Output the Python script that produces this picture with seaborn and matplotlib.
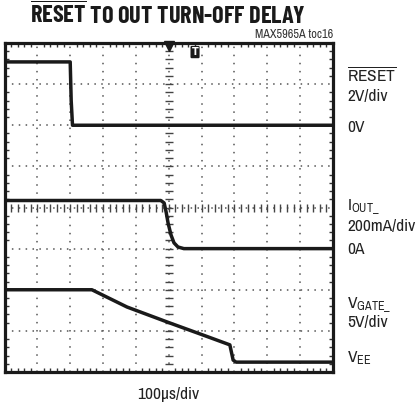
import numpy as np
import pandas as pd
import seaborn as sns
import matplotlib.pyplot as plt
from matplotlib.ticker import MultipleLocator

# trace breakpoints, in scope divisions (10 x 8 graticule)
reset_t = [0.0, 2.00, 2.03, 2.07, 10.0]
reset_v = [7.54, 7.54, 6.60, 6.00, 6.00]

iout_t = [0.0, 4.76, 4.86, 4.92, 4.98, 5.07, 5.16, 5.28, 5.46, 10.0]
iout_v = [4.17, 4.17, 4.11, 3.89, 3.62, 3.33, 3.14, 3.04, 3.00, 3.00]

gate_t = [0.0, 2.66, 3.73, 5.04, 6.04, 6.86, 6.96, 7.05, 10.0]
gate_v = [2.00, 2.00, 1.58, 1.19, 0.90, 0.66, 0.29, 0.24, 0.24]

traces = pd.concat([
    pd.DataFrame({"t": reset_t, "v": reset_v, "ch": "reset"}),
    pd.DataFrame({"t": iout_t, "v": iout_v, "ch": "iout"}),
    pd.DataFrame({"t": gate_t, "v": gate_v, "ch": "gate"}),
])

sns.set_theme(style="white")
plt.rcParams["font.family"] = ["Archivo Narrow", "DejaVu Sans"]
plt.rcParams["mathtext.fontset"] = "custom"
plt.rcParams["mathtext.rm"] = "Archivo Narrow"
plt.rcParams["mathtext.bf"] = "Barlow Condensed:bold"

fig = plt.figure(figsize=(4.2, 4.07), dpi=100)
ax = fig.add_axes([4.5 / 420, 35 / 407, 328.5 / 420, 329 / 407])

# dotted graticule
ax.set_xlim(0, 10)
ax.set_ylim(0, 8)
ax.xaxis.set_major_locator(MultipleLocator(1))
ax.yaxis.set_major_locator(MultipleLocator(1))
ax.xaxis.set_minor_locator(MultipleLocator(0.2))
ax.yaxis.set_minor_locator(MultipleLocator(0.2))
ax.xaxis.grid(True, color="#555555", lw=1.1, ls=(0, (1, 4.3)))
ax.yaxis.grid(True, color="#555555", lw=1.1, ls=(0, (1, 3.5)))
ax.tick_params(which="both", direction="in", top=True, right=True,
               bottom=True, left=True, labelbottom=False, labelleft=False,
               color="#333333")
ax.tick_params(which="major", length=0)
ax.tick_params(which="minor", length=3, width=1)
for s in ax.spines.values():
    s.set_linewidth(2.3)
    s.set_color("#1a1a1a")

# center cross with small ticks
ticks_x = np.arange(0, 10.01, 0.2)
ticks_y = np.arange(0, 8.01, 0.2)
ax.plot(ticks_x, np.full(len(ticks_x), 4.0), ls="none", marker="|",
        ms=6, mew=1, color="#444444")
ax.plot(np.full(len(ticks_y), 5.0), ticks_y, ls="none", marker="_",
        ms=6, mew=1, color="#444444")

sns.lineplot(data=traces, x="t", y="v", units="ch", estimator=None,
             sort=False, color="#1a1a1a", lw=2.5, ax=ax)
ax.set_xlabel("")
ax.set_ylabel("")

# trigger markers
ax.plot(5, 7.93, marker="v", ms=7, color="#1a1a1a", clip_on=False)
ax.text(5.8, 7.78, "T", fontsize=7, color="white", fontweight="bold",
        family="DejaVu Sans", ha="center", va="center",
        bbox=dict(boxstyle="round,pad=0.12", fc="#1a1a1a", ec="none"))


def px(x, y):
    return x / 420, 1 - y / 407


fig.text(*px(168, 15), r"$\overline{\mathbf{RESET}}$" + " TO OUT TURN-OFF DELAY",
         fontsize=17.5, fontweight="bold", family="Barlow Condensed",
         ha="center", va="center", color="#1a1a1a")
fig.text(*px(333, 40), "MAX5965A toc16", fontsize=8.8, ha="right",
         va="bottom", color="#333333")

lab = dict(fontsize=12.5, ha="left", va="center", color="#222222")
fig.text(*px(347, 75), r"$\overline{\mathregular{RESET}}$", **lab)
fig.text(*px(347, 96), "2V/div", **lab)
fig.text(*px(347, 127), "0V", **lab)
fig.text(*px(347, 207), r"$\mathregular{I_{OUT\_}}$", **lab)
fig.text(*px(347, 226), "200mA/div", **lab)
fig.text(*px(347, 249), "0A", **lab)
fig.text(*px(347, 305), r"$\mathregular{V_{GATE\_}}$", **lab)
fig.text(*px(347, 323), "5V/div", **lab)
fig.text(*px(347, 358), r"$\mathregular{V_{EE}}$", **lab)
fig.text(*px(168, 395), "100µs/div", fontsize=12.5, ha="center",
         va="center", color="#222222")

fig.savefig("out.png", dpi=100)
